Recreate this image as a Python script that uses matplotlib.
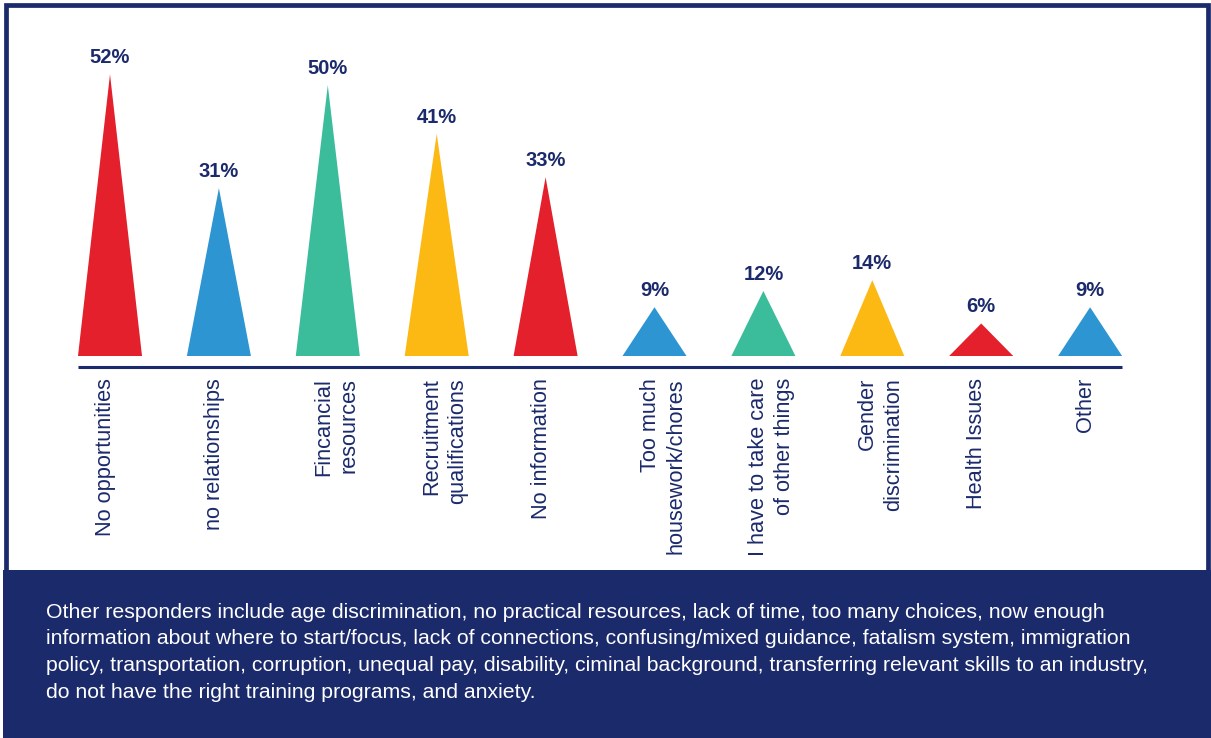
import matplotlib
matplotlib.use("Agg")
import matplotlib.pyplot as plt
from matplotlib.patches import Rectangle

categories = ["No opportunities", "no relationships", "Fincancial\nresources",
              "Recruitment\nqualifications", "No information", "Too much\nhousework/chores",
              "I have to take care\nof other things", "Gender\ndiscrimination",
              "Health Issues", "Other"]
values = [52, 31, 50, 41, 33, 9, 12, 14, 6, 9]
value_labels = ["52%", "31%", "50%", "41%", "33%", "9%", "12%", "14%", "6%", "9%"]
colors = ["#E3202B", "#2E95D3", "#3BBD9C", "#FDB913", "#E3202B",
          "#2E95D3", "#3BBD9C", "#FDB913", "#E3202B", "#2E95D3"]
footnote = ("Other responders include age discrimination, no practical resources, lack of time, too many choices, now enough\n"
            "information about where to start/focus, lack of connections, confusing/mixed guidance, fatalism system, immigration\n"
            "policy, transportation, corruption, unequal pay, disability, ciminal background, transferring relevant skills to an industry,\n"
            "do not have the right training programs, and anxiety.")

NAVY = "#1B2A6B"
plt.rcParams['font.family'] = ['Liberation Sans', 'DejaVu Sans']

W, H = 1211, 738
fig = plt.figure(figsize=(W / 100, H / 100), dpi=100)
fig.patch.set_facecolor("white")

def fx(px):
    return px / W

def fy(py):
    return 1 - py / H

# footer box
fig.patches.append(Rectangle((fx(3), 0), fx(1211 - 3), fy(570), transform=fig.transFigure,
                             facecolor=NAVY, edgecolor="none", zorder=0))
# border
fig.patches.append(Rectangle((fx(6), fy(736)), fx(1208 - 6), fy(5) - fy(736), transform=fig.transFigure,
                             facecolor="none", edgecolor=NAVY, linewidth=3.4, zorder=1))

# chart axes
left = fx(110 - 54.45)
ax = fig.add_axes([left, fy(356), 1089 / W, 325 / H])
ax.set_xlim(-0.5, len(values) - 0.5)
ax.set_ylim(0, 60)
ax.axis("off")

hw = 0.294
for i, (v, c, lab) in enumerate(zip(values, colors, value_labels)):
    ax.fill([i - hw, i, i + hw], [0, v, 0], color=c, linewidth=0)
    ax.annotate(lab, (i, v), xytext=(0, 8), textcoords="offset points",
                ha="center", va="baseline", fontsize=14.5, fontweight="bold", color=NAVY)
    ax.annotate(categories[i], (i, 0), xytext=(-15, -22), textcoords="offset pixels",
                rotation=90, ha="left", va="top", multialignment="right",
                fontsize=15.7, color=NAVY, linespacing=1.3)

ax.plot([-hw, len(values) - 1 + hw], [-2.05, -2.05], color=NAVY, linewidth=2.2,
        clip_on=False, solid_capstyle="butt")

fig.text(fx(46), fy(603), footnote, ha="left", va="top", fontsize=15.3,
         color="white", linespacing=1.5)

fig.savefig("out.png", dpi=100)
